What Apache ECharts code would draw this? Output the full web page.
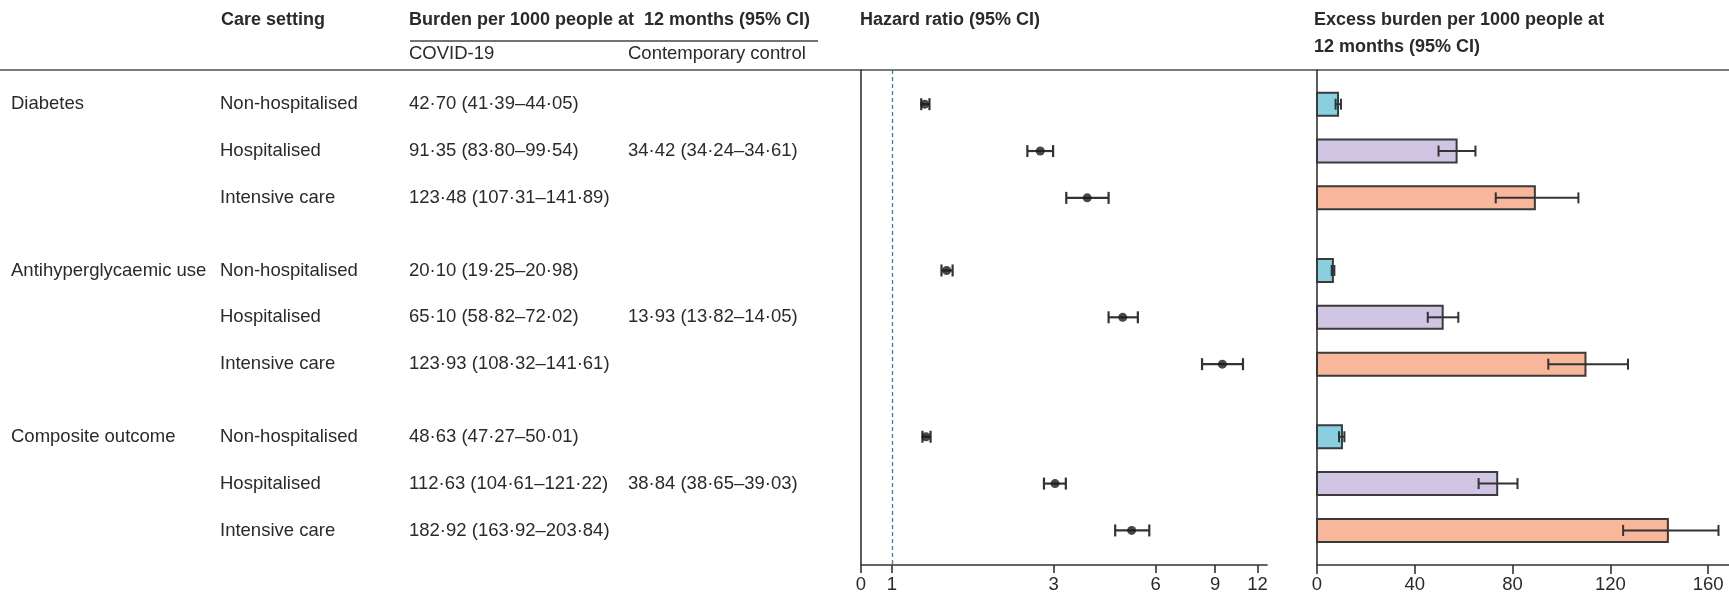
<!DOCTYPE html>
<html>
<head>
<meta charset="utf-8">
<script src="https://cdn.jsdelivr.net/npm/echarts@6/dist/echarts.min.js"></script>
<style>
html, body { margin: 0; padding: 0; background: #fff; }
#main { width: 1729px; height: 598px; }
</style>
</head>
<body>
<div id="main"></div>
<script>
// table text
var outcomes = ['Diabetes', 'Antihyperglycaemic use', 'Composite outcome'];
var careSettings = ['Non-hospitalised', 'Hospitalised', 'Intensive care'];
var covidBurden = [
    '42·70 (41·39–44·05)', '91·35 (83·80–99·54)', '123·48 (107·31–141·89)',
    '20·10 (19·25–20·98)', '65·10 (58·82–72·02)', '123·93 (108·32–141·61)',
    '48·63 (47·27–50·01)', '112·63 (104·61–121·22)', '182·92 (163·92–203·84)'
];
var controlBurden = ['34·42 (34·24–34·61)', '13·93 (13·82–14·05)', '38·84 (38·65–39·03)'];

// hazard ratios
var hr     = [1.25, 2.74, 3.77, 1.45, 4.80, 9.45, 1.26, 3.03, 5.10];
var hrLow  = [1.22, 2.51, 3.27, 1.40, 4.36, 8.23, 1.23, 2.81, 4.56];
var hrHigh = [1.29, 2.99, 4.36, 1.51, 5.32, 10.87, 1.30, 3.26, 5.75];

// excess burden per 1000
var excess     = [8.6, 57.1, 89.1, 6.5, 51.4, 109.8, 10.2, 73.7, 143.5];
var excessLow  = [7.6, 49.7, 73.1, 6.0, 45.3, 94.6, 9.0, 66.1, 125.2];
var excessHigh = [9.8, 64.8, 106.9, 7.1, 57.8, 127.2, 11.2, 82.0, 164.2];

var hrTicks = [0, 1, 3, 6, 9, 12];
var excessTicks = [0, 40, 80, 120, 160];

var FONT = '"Liberation Sans", Arial, sans-serif';
var TXT = '#2a2a2a';
var FS = 18.5;
var HR_MIN = 0.81, HR_MAX = 12.8;
var GROUP_STEP = 3.55;
var barColors = ['#8acfe0', '#d0c6e3', '#f8b69b'];

function rowPos(i) { return Math.floor(i / 3) * GROUP_STEP + (i % 3); }

var tableData = [], hrPts = [], hrCI = [], exBars = [], exCI = [];
for (var i = 0; i < hr.length; i++) {
    var y = rowPos(i);
    tableData.push([1, y]);
    hrPts.push([hr[i], y]);
    hrCI.push([hrLow[i], hrHigh[i], y]);
    exBars.push([excess[i], y]);
    exCI.push([excessLow[i], excessHigh[i], y]);
}
var hrTickVals = hrTicks.map(function (v) { return v === 0 ? HR_MIN : v; });

var chart = echarts.init(document.getElementById('main'));

function renderTable(params, api) {
    var i = params.dataIndex;
    var yy = api.coord([api.value(0), api.value(1)])[1];
    var g = Math.floor(i / 3), r = i % 3;
    var kids = [];
    function txt(x, s) {
        kids.push({ type: 'text', style: {
            x: x, y: yy, text: s, fill: TXT, fontSize: FS, fontFamily: FONT,
            align: 'left', verticalAlign: 'middle'
        } });
    }
    if (r === 0) txt(11, outcomes[g]);
    txt(220, careSettings[r]);
    txt(409, covidBurden[i]);
    if (r === 1) txt(628, controlBurden[g]);
    return { type: 'group', children: kids };
}

function renderCI(capH, lw) {
    return function (params, api) {
        var yv = api.value(2);
        var p0 = api.coord([api.value(0), yv]);
        var p1 = api.coord([api.value(1), yv]);
        var st = { stroke: '#333', lineWidth: lw };
        return { type: 'group', children: [
            { type: 'line', shape: { x1: p0[0], y1: p0[1], x2: p1[0], y2: p1[1] }, style: st },
            { type: 'line', shape: { x1: p0[0], y1: p0[1] - capH / 2, x2: p0[0], y2: p0[1] + capH / 2 }, style: st },
            { type: 'line', shape: { x1: p1[0], y1: p1[1] - capH / 2, x2: p1[0], y2: p1[1] + capH / 2 }, style: st }
        ] };
    };
}

function renderBar(params, api) {
    var yv = api.value(1);
    var a = api.coord([0, yv]);
    var b = api.coord([api.value(0), yv]);
    var h = 23;
    return { type: 'rect',
        shape: { x: a[0], y: a[1] - h / 2, width: b[0] - a[0], height: h },
        style: { fill: barColors[params.dataIndex % 3], stroke: '#3a3a3a', lineWidth: 2 } };
}

var yAxisBase = {
    type: 'value', inverse: true, min: -0.73, max: 9.838,
    axisLabel: { show: false }, axisTick: { show: false }, splitLine: { show: false },
    axisLine: { show: true, onZero: false, lineStyle: { color: '#333', width: 1.6 } }
};
var axisLabelBase = { fontSize: FS, color: TXT, fontFamily: FONT, margin: 10 };

option = {
    animation: false,
    backgroundColor: '#fff',
    grid: [
        { left: 861, top: 70, width: 406, height: 495 },
        { left: 1317, top: 70, right: 0, height: 495 }
    ],
    xAxis: [
        {
            type: 'log', gridIndex: 0, min: HR_MIN, max: HR_MAX, logBase: 10,
            splitLine: { show: false },
            axisLine: { show: true, onZero: false, lineStyle: { color: '#333', width: 1.6 } },
            axisTick: { show: true, customValues: hrTickVals, length: 8, lineStyle: { color: '#333', width: 1.6 } },
            axisLabel: Object.assign({}, axisLabelBase, {
                customValues: hrTickVals,
                formatter: function (v) { return v < 1 ? '0' : String(Math.round(v)); }
            })
        },
        {
            type: 'value', gridIndex: 1, min: 0, max: 168.5,
            splitLine: { show: false },
            axisLine: { show: true, onZero: false, lineStyle: { color: '#333', width: 1.6 } },
            axisTick: { show: true, customValues: excessTicks, length: 9, lineStyle: { color: '#333', width: 1.6 } },
            axisLabel: Object.assign({}, axisLabelBase, { customValues: excessTicks })
        }
    ],
    yAxis: [
        Object.assign({ gridIndex: 0 }, yAxisBase),
        Object.assign({ gridIndex: 1 }, yAxisBase)
    ],
    graphic: [
        { type: 'line', shape: { x1: 0, y1: 70, x2: 1729, y2: 70 }, style: { stroke: '#7a7a7a', lineWidth: 2 } },
        { type: 'line', shape: { x1: 410, y1: 41, x2: 818, y2: 41 }, style: { stroke: '#444', lineWidth: 1.4 } },
        { type: 'text', x: 221, y: 20, style: { text: 'Care setting', fill: TXT, fontSize: 18, fontWeight: 'bold', fontFamily: FONT, verticalAlign: 'middle' } },
        { type: 'text', x: 409, y: 20, style: { text: 'Burden per 1000 people at  12 months (95% CI)', fill: TXT, fontSize: 18, fontWeight: 'bold', fontFamily: FONT, verticalAlign: 'middle' } },
        { type: 'text', x: 409, y: 54, style: { text: 'COVID-19', fill: TXT, fontSize: FS, fontFamily: FONT, verticalAlign: 'middle' } },
        { type: 'text', x: 628, y: 54, style: { text: 'Contemporary control', fill: TXT, fontSize: FS, fontFamily: FONT, verticalAlign: 'middle' } },
        { type: 'text', x: 860, y: 20, style: { text: 'Hazard ratio (95% CI)', fill: TXT, fontSize: 18, fontWeight: 'bold', fontFamily: FONT, verticalAlign: 'middle' } },
        { type: 'text', x: 1314, y: 20, style: { text: 'Excess burden per 1000 people at', fill: TXT, fontSize: 18, fontWeight: 'bold', fontFamily: FONT, verticalAlign: 'middle' } },
        { type: 'text', x: 1314, y: 47, style: { text: '12 months (95% CI)', fill: TXT, fontSize: 18, fontWeight: 'bold', fontFamily: FONT, verticalAlign: 'middle' } }
    ],
    series: [
        {
            name: 'table', type: 'custom', xAxisIndex: 0, yAxisIndex: 0, clip: false, silent: true,
            renderItem: renderTable, data: tableData
        },
        {
            name: 'hrCI', type: 'custom', xAxisIndex: 0, yAxisIndex: 0, silent: true,
            renderItem: renderCI(12, 2.2), data: hrCI
        },
        {
            name: 'Hazard ratio', type: 'scatter', xAxisIndex: 0, yAxisIndex: 0,
            symbolSize: 9, itemStyle: { color: '#1a1a1a' }, data: hrPts,
            markLine: {
                silent: true, symbol: 'none', label: { show: false },
                lineStyle: { color: '#4f7787', width: 1.3, type: [4, 3] },
                data: [{ xAxis: 1 }]
            }
        },
        {
            name: 'Excess burden', type: 'custom', xAxisIndex: 1, yAxisIndex: 1, silent: true,
            renderItem: renderBar, data: exBars
        },
        {
            name: 'excessCI', type: 'custom', xAxisIndex: 1, yAxisIndex: 1, silent: true,
            renderItem: renderCI(11, 2), data: exCI
        }
    ]
};
if (option && typeof option === 'object') {
    chart.setOption(option, true);
}
</script>
</body>
</html>
